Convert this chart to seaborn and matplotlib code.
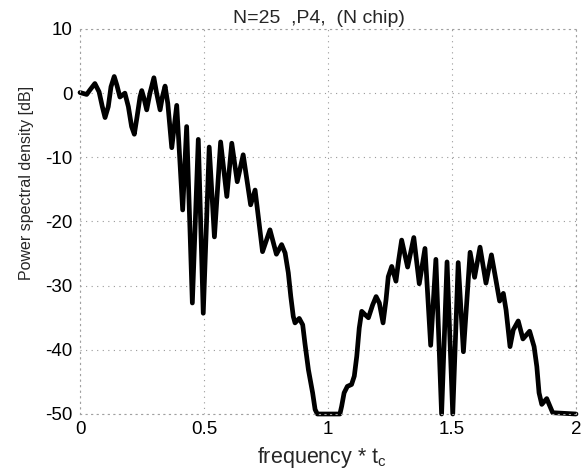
import matplotlib
matplotlib.use("Agg")
import matplotlib.pyplot as plt
import seaborn as sns
import pandas as pd

# frequency * t_c
freq = [0.000, 0.027, 0.040, 0.060, 0.077, 0.090, 0.101, 0.114, 0.125, 0.138,
        0.149, 0.161, 0.181, 0.195, 0.208, 0.219, 0.230, 0.242, 0.249, 0.258,
        0.269, 0.282, 0.298, 0.309, 0.323, 0.332, 0.343, 0.354, 0.370, 0.390,
        0.414, 0.430, 0.453, 0.477, 0.497, 0.521, 0.542, 0.567, 0.592, 0.612,
        0.634, 0.658, 0.688, 0.706, 0.736, 0.766, 0.792, 0.813, 0.827, 0.840,
        0.850, 0.860, 0.867, 0.884, 0.898, 0.907, 0.921, 0.938, 0.948, 0.957,
        1.048, 1.055, 1.065, 1.078, 1.095, 1.106, 1.116, 1.126, 1.136, 1.149,
        1.163, 1.180, 1.194, 1.207, 1.222, 1.234, 1.243, 1.257, 1.274, 1.285,
        1.297, 1.321, 1.346, 1.368, 1.391, 1.414, 1.435, 1.458, 1.480, 1.503,
        1.525, 1.546, 1.573, 1.591, 1.613, 1.637, 1.659, 1.677, 1.692, 1.707,
        1.718, 1.734, 1.747, 1.767, 1.786, 1.813, 1.831, 1.842, 1.851, 1.862,
        1.882, 1.895, 1.906, 2.000]
# power spectral density [dB]
psd = [0.1, -0.2, 0.5, 1.5, 0.2, -2.1, -3.8, -2.1, 1.0, 2.6,
       1.2, -0.6, 0.0, -2.1, -5.2, -6.4, -3.7, -0.6, 0.4, -0.8,
       -2.6, 0.0, 2.4, 0.0, -2.6, -0.6, 1.1, -1.6, -8.5, -1.9,
       -18.2, -5.2, -32.7, -7.2, -34.3, -8.4, -22.4, -7.6, -16.1, -7.8,
       -13.8, -9.6, -17.4, -15.1, -24.7, -21.3, -25.1, -23.6, -24.9, -28.0,
       -31.7, -34.8, -35.8, -35.1, -36.1, -39.0, -43.1, -46.7, -49.3, -50.0,
       -50.0, -48.8, -46.7, -45.7, -45.4, -44.1, -41.0, -36.6, -34.0, -34.5,
       -35.0, -33.0, -31.7, -32.7, -35.8, -32.2, -28.6, -27.0, -29.3, -26.0,
       -22.9, -27.1, -22.5, -29.7, -24.2, -39.3, -25.9, -50.0, -26.3, -50.0,
       -26.4, -40.3, -24.8, -28.7, -24.0, -29.6, -25.2, -29.1, -32.4, -31.2,
       -33.8, -39.5, -36.9, -35.5, -38.3, -37.1, -39.5, -42.6, -46.7, -48.5,
       -47.6, -48.8, -49.8, -50.0]

x_ticks = [0, 0.5, 1, 1.5, 2]
x_tick_labels = ["0", "0.5", "1", "1.5", "2"]
y_ticks = [-50, -40, -30, -20, -10, 0, 10]
y_tick_labels = ["-50", "-40", "-30", "-20", "-10", "0", "10"]

sns.set_style("white")
plt.rcParams["font.family"] = ["Liberation Sans", "DejaVu Sans"]

df = pd.DataFrame({"f": freq, "p": psd})

W, H = 584, 471
fig = plt.figure(figsize=(W / 100, H / 100), dpi=100)
ax = fig.add_axes([80 / W, 1 - 414 / H, 496 / W, 385 / H])

sns.lineplot(data=df, x="f", y="p", ax=ax, color="black", linewidth=3.4,
             sort=False, solid_joinstyle="round", solid_capstyle="round",
             clip_on=False)

ax.set_xlim(0, 2)
ax.set_ylim(-50, 10)
ax.set_xticks(x_ticks)
ax.set_xticklabels(x_tick_labels)
ax.set_yticks(y_ticks)
ax.set_yticklabels(y_tick_labels)
ax.tick_params(axis="both", length=0, labelsize=13.5, colors="black")
ax.tick_params(axis="x", pad=5)
ax.tick_params(axis="y", pad=5.5)
ax.set_xlabel("")
ax.set_ylabel("")

ax.grid(True, linestyle=(0, (1, 4)), color="#999999", linewidth=0.8)
for s in ax.spines.values():
    s.set_linestyle((0, (1, 4)))
    s.set_color("#a0a0a0")
    s.set_linewidth(0.8)

fig.text(319 / W, 1 - 18.5 / H, "N=25  ,P4,  (N chip)", fontsize=14,
         ha="center", va="center")
fig.text(321.7 / W, 1 - 463 / H, "frequency * t$_\\mathregular{c}$",
         fontsize=15.5, ha="center", va="baseline")
fig.text(27 / W, 1 - 183 / H, "Power spectral density [dB]", fontsize=11.5,
         rotation=90, ha="center", va="center")

fig.savefig("out.png", dpi=100)
